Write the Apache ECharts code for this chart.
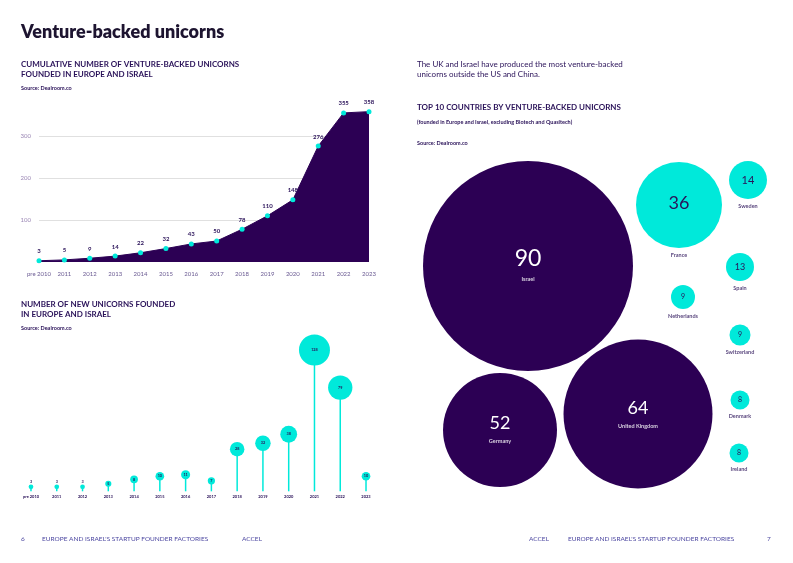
<!DOCTYPE html>
<html>
<head>
<meta charset="utf-8">
<script src="https://cdn.jsdelivr.net/npm/echarts@6/dist/echarts.min.js"></script>
<style>
  html, body { margin: 0; padding: 0; background: #fff; }
  #chartContainerID { width: 793px; height: 563px; }
</style>
</head>
<body>
<div id="chartContainerID"></div>
<script>
var years = ['pre 2010', '2011', '2012', '2013', '2014', '2015', '2016', '2017', '2018', '2019', '2020', '2021', '2022', '2023'];
var cumulativeUnicorns = [3, 5, 9, 14, 22, 32, 43, 50, 78, 110, 148, 276, 355, 358];
var newUnicorns = [3, 3, 3, 5, 8, 10, 11, 7, 28, 32, 38, 128, 79, 10];
var countries = ['Israel', 'United Kingdom', 'Germany', 'France', 'Sweden', 'Spain', 'Netherlands', 'Switzerland', 'Denmark', 'Ireland'];
var countryUnicorns = [90, 64, 52, 36, 14, 13, 9, 9, 8, 8];

var purple = '#2c0054';
var cyan = '#00e9da';
var navy = '#2a1259';
var footerBlue = '#4b46a0';
var fontName = 'Lato';

// the bubbles have no real axes in the original, so they are placed on a hidden plane
var bubbleSpots = {
  'Israel': { x: 128, y: 116, size: 210, numberSize: 23, numberY: -7, nameY: 13 },
  'United Kingdom': { x: 238, y: 264, size: 149, numberSize: 18, numberY: -6, nameY: 12 },
  'Germany': { x: 100, y: 280, size: 114, numberSize: 18, numberY: -7, nameY: 11 },
  'France': { x: 279, y: 55, size: 86, numberSize: 18, numberY: -2 },
  'Sweden': { x: 348, y: 30, size: 38, numberSize: 11, numberY: 0 },
  'Spain': { x: 340, y: 117, size: 28, numberSize: 9, numberY: 0 },
  'Netherlands': { x: 283, y: 147, size: 24, numberSize: 7, numberY: 0 },
  'Switzerland': { x: 340, y: 185, size: 21, numberSize: 7, numberY: 0 },
  'Denmark': { x: 340, y: 250, size: 19, numberSize: 7, numberY: 0 },
  'Ireland': { x: 339, y: 303, size: 19, numberSize: 7, numberY: 0 }
};

function pageText(text, x, y, size, weight, color, align) {
  return {
    type: 'text',
    x: x,
    y: y,
    style: {
      text: text,
      fontFamily: fontName,
      fontSize: size,
      fontWeight: weight,
      fill: color,
      align: align || 'left',
      verticalAlign: 'middle'
    }
  };
}

var bubbleData = [];
var nameData = [];
for (var i = 0; i < countries.length; i++) {
  var spot = bubbleSpots[countries[i]];
  var isBig = countryUnicorns[i] > 50;
  bubbleData.push({
    value: [spot.x, spot.y, countryUnicorns[i]],
    symbolSize: spot.size,
    itemStyle: { color: isBig ? purple : cyan },
    label: {
      fontSize: spot.numberSize,
      color: isBig ? '#fff' : navy,
      offset: [0, spot.numberY]
    }
  });
  nameData.push({
    name: countries[i],
    value: [spot.x, spot.y],
    symbolSize: spot.size,
    label: isBig
      ? { position: 'inside', offset: [0, spot.nameY], color: '#fff' }
      : { position: 'bottom', distance: 4, color: navy }
  });
}

var newData = [];
for (var j = 0; j < newUnicorns.length; j++) {
  newData.push({
    value: newUnicorns[j],
    label: newUnicorns[j] <= 3
      ? { position: 'top', distance: 1 }
      : { position: 'inside' }
  });
}

var myChart = echarts.init(document.getElementById('chartContainerID'));
var option = {
  animation: false,
  backgroundColor: '#fff',
  textStyle: { fontFamily: fontName },
  graphic: [
    pageText('Venture-backed unicorns', 21, 32, 18, 800, '#1d1430'),
    pageText('CUMULATIVE NUMBER OF VENTURE-BACKED UNICORNS', 21, 64, 8, 700, navy),
    pageText('FOUNDED IN EUROPE AND ISRAEL', 21, 74, 8, 700, navy),
    pageText('Source: Dealroom.co', 21, 88, 5.5, 700, navy),
    pageText('NUMBER OF NEW UNICORNS FOUNDED', 21, 304, 8, 700, navy),
    pageText('IN EUROPE AND ISRAEL', 21, 314, 8, 700, navy),
    pageText('Source: Dealroom.co', 21, 328, 5.5, 700, navy),
    pageText('The UK and Israel have produced the most venture-backed', 417, 64, 8, 400, navy),
    pageText('unicorns outside the US and China.', 417, 74, 8, 400, navy),
    pageText('TOP 10 COUNTRIES BY VENTURE-BACKED UNICORNS', 417, 107, 8, 700, navy),
    pageText('(founded in Europe and Israel, excluding Biotech and Quasitech)', 417, 122, 5.5, 700, navy),
    pageText('Source: Dealroom.co', 417, 143, 5.5, 700, navy),
    pageText('6', 21, 539, 6.5, 400, footerBlue),
    pageText("EUROPE AND ISRAEL'S STARTUP FOUNDER FACTORIES", 42, 539, 6.5, 400, footerBlue),
    pageText('ACCEL', 242, 539, 6.5, 400, footerBlue),
    pageText('ACCEL', 529, 539, 6.5, 400, footerBlue),
    pageText("EUROPE AND ISRAEL'S STARTUP FOUNDER FACTORIES", 568, 539, 6.5, 400, footerBlue),
    pageText('7', 767, 539, 6.5, 400, footerBlue)
  ],
  grid: [
    { left: 39, top: 94, width: 330, height: 168 },
    { left: 18.1, top: 332, width: 360.8, height: 159.3 },
    { left: 400, top: 150, width: 393, height: 350 }
  ],
  xAxis: [
    {
      gridIndex: 0,
      type: 'category',
      data: years,
      boundaryGap: false,
      axisLine: { show: false },
      axisTick: { show: false },
      axisLabel: { fontSize: 6, color: '#6a5a92', margin: 9, interval: 0 }
    },
    {
      gridIndex: 1,
      type: 'category',
      data: years,
      axisLine: { show: false },
      axisTick: { show: false },
      axisLabel: { fontSize: 4, fontWeight: 700, color: navy, margin: 3, interval: 0 }
    },
    { gridIndex: 2, type: 'value', min: 0, max: 393, show: false }
  ],
  yAxis: [
    {
      gridIndex: 0,
      type: 'value',
      min: 0,
      max: 400,
      interval: 100,
      axisLine: { show: false },
      axisTick: { show: false },
      axisLabel: {
        fontSize: 6,
        color: '#9a86b4',
        margin: 8,
        formatter: function (v) {
          return v === 0 || v === 400 ? '' : v;
        }
      },
      splitLine: { showMinLine: false, showMaxLine: false, lineStyle: { color: '#d8d8d8', width: 0.8 } }
    },
    {
      gridIndex: 1,
      type: 'value',
      min: 0,
      max: 140,
      show: false,
      // the original squeezes its tall stems, so the same squeeze is kept on this axis
      breaks: [
        { start: 40, end: 75, gap: 25 },
        { start: 85, end: 120, gap: 11 }
      ],
      breakArea: { show: false }
    },
    { gridIndex: 2, type: 'value', min: 0, max: 350, inverse: true, show: false }
  ],
  series: [
    {
      type: 'line',
      xAxisIndex: 0,
      yAxisIndex: 0,
      data: cumulativeUnicorns,
      symbol: 'circle',
      symbolSize: 5,
      lineStyle: { color: purple, width: 1 },
      itemStyle: { color: cyan },
      areaStyle: { color: purple, opacity: 1 },
      label: { show: true, position: 'top', distance: 4, fontSize: 6, fontWeight: 700, color: navy }
    },
    {
      type: 'bar',
      xAxisIndex: 1,
      yAxisIndex: 1,
      data: newUnicorns,
      barWidth: 1.5,
      itemStyle: { color: cyan },
      silent: true
    },
    {
      type: 'scatter',
      xAxisIndex: 1,
      yAxisIndex: 1,
      data: newData,
      symbolSize: function (v) {
        return 2.74 * Math.sqrt(v);
      },
      clip: false,
      itemStyle: { color: cyan, opacity: 1 },
      label: { show: true, fontSize: 3.8, fontWeight: 700, color: navy }
    },
    {
      type: 'scatter',
      xAxisIndex: 2,
      yAxisIndex: 2,
      data: bubbleData,
      clip: false,
      itemStyle: { opacity: 1 },
      label: {
        show: true,
        position: 'inside',
        formatter: function (p) {
          return p.value[2];
        }
      }
    },
    {
      type: 'scatter',
      xAxisIndex: 2,
      yAxisIndex: 2,
      data: nameData,
      clip: false,
      itemStyle: { color: 'transparent' },
      label: {
        show: true,
        fontSize: 5.5,
        fontWeight: 700,
        formatter: function (p) {
          return p.name;
        }
      }
    }
  ]
};
myChart.setOption(option);
</script>
</body>
</html>
